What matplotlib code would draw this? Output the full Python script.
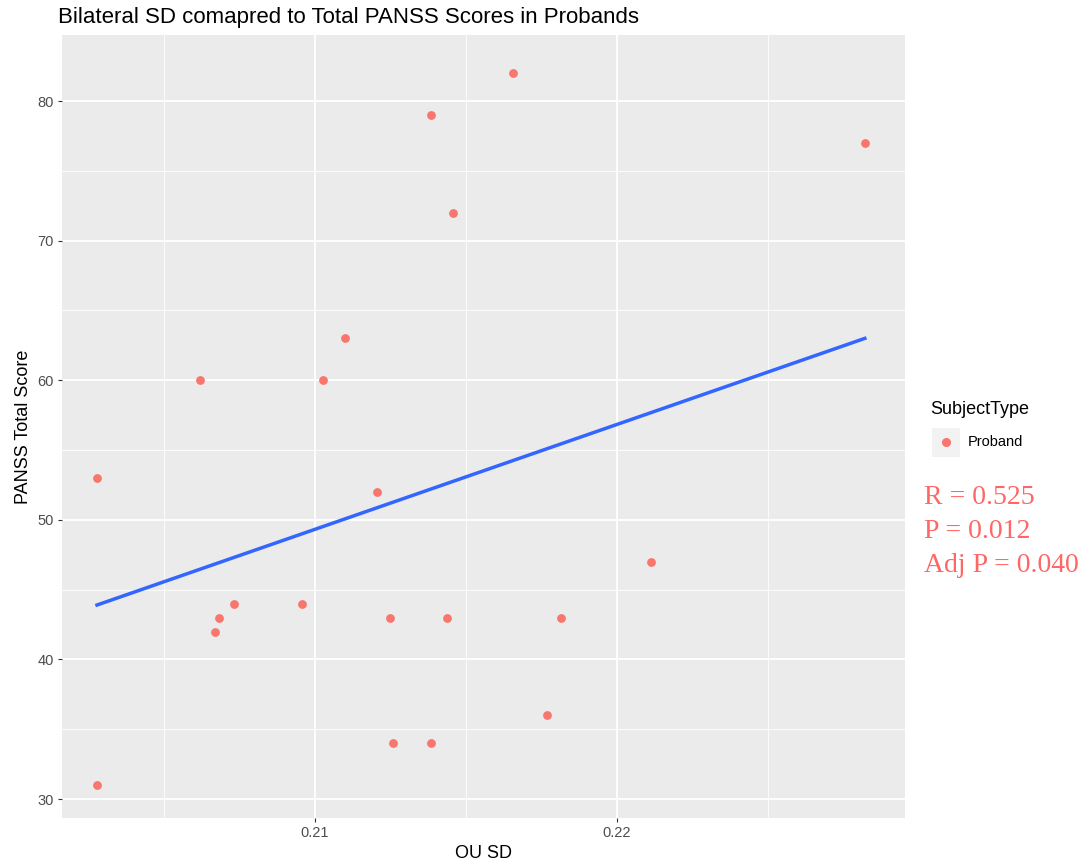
import matplotlib.pyplot as plt
import numpy as np
from matplotlib.patches import Rectangle
from matplotlib.lines import Line2D

plt.rcParams['font.family'] = ['Liberation Sans', 'DejaVu Sans']

# OU SD vs PANSS total score, probands
ou_sd = [0.20278, 0.20278, 0.20619, 0.20669, 0.20682, 0.20732, 0.20957,
         0.21026, 0.21099, 0.21205, 0.21248, 0.21258, 0.21384, 0.21384,
         0.21437, 0.21457, 0.21656, 0.21768, 0.21815, 0.22113, 0.22821]
panss = [53, 31, 60, 42, 43, 44, 44,
         60, 63, 52, 43, 34, 79, 34,
         43, 72, 82, 36, 43, 47, 77]
# fitted line as shown in the chart (ends at data x range)
fit_x = [0.20278, 0.22821]
fit_y = [43.9, 63.0]
stats_lines = ["R = 0.525", "P = 0.012", "Adj P = 0.040"]

point_col = '#F8766D'
line_col = '#3366FF'
panel_bg = '#EBEBEB'

fig = plt.figure(figsize=(10.82, 8.65), dpi=100)
ax = fig.add_axes([0.0573, 0.0543, 0.7791, 0.9052])
ax.set_facecolor(panel_bg)
for s in ax.spines.values():
    s.set_visible(False)

ax.set_xlim(0.20162, 0.22954)
ax.set_ylim(28.64, 84.73)
ax.set_xticks([0.21, 0.22])
ax.set_xticklabels(['0.21', '0.22'])
ax.set_yticks([30, 40, 50, 60, 70, 80])
ax.set_xticks([0.205, 0.215, 0.225], minor=True)
ax.set_yticks([35, 45, 55, 65, 75], minor=True)
ax.grid(which='major', color='white', linewidth=1.3)
ax.grid(which='minor', color='white', linewidth=0.6)
ax.set_axisbelow(True)
ax.tick_params(which='major', length=3, color='#333333', labelcolor='#4D4D4D',
               labelsize=10.5, pad=3)
ax.tick_params(which='minor', length=0)

ax.scatter(ou_sd, panss, s=40, color=point_col, zorder=3, linewidths=0)
ax.plot(fit_x, fit_y, color=line_col, linewidth=2.5, zorder=2)

ax.set_xlabel('OU SD', fontsize=13, labelpad=3)
ax.set_ylabel('PANSS Total Score', fontsize=13, labelpad=4)
fig.text(0.054, 0.980, 'Bilateral SD comapred to Total PANSS Scores in Probands',
         fontsize=16, va='center', ha='left')

# legend
fig.text(930 / 1082, 1 - 410 / 865, 'SubjectType', fontsize=13, va='center', ha='left')
fig.patches.append(Rectangle((932 / 1082, 1 - 457 / 865), 28 / 1082, 29 / 865,
                             transform=fig.transFigure, facecolor='#F2F2F2',
                             edgecolor='none'))
fig.lines.append(Line2D([946 / 1082], [1 - 442 / 865], transform=fig.transFigure,
                        marker='o', markersize=5.5, color=point_col, linestyle='none'))
fig.text(968 / 1082, 1 - 442 / 865, 'Proband', fontsize=10.5, va='center', ha='left')

for i, t in enumerate(stats_lines):
    fig.text(924 / 1082, 1 - (497 + 34 * i) / 865, t, fontsize=20, color='#FF6666',
             family='Liberation Serif', va='center', ha='left')

fig.savefig('out.png', dpi=100)
